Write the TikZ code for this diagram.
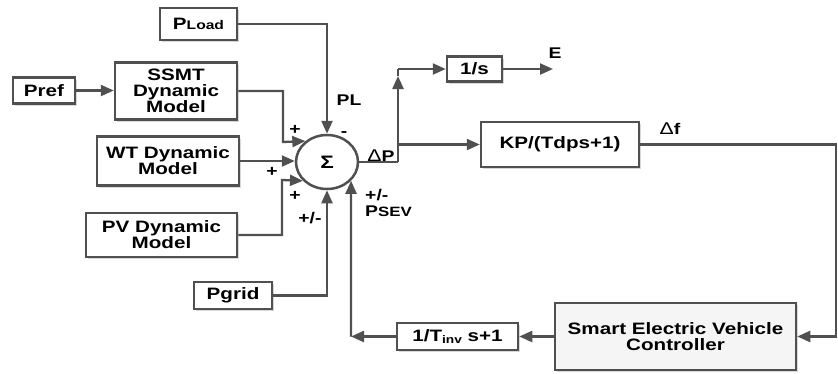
\documentclass[tikz,border=0pt]{standalone}
\usepackage{fontspec}
\setmainfont{Liberation Sans}[FakeStretch=1.25]
\usetikzlibrary{arrows.meta,shapes.geometric,shadows}
\definecolor{lc}{RGB}{80,80,80}
\begin{document}
\begin{tikzpicture}[x=1pt,y=-1pt,
  blk/.style={draw=lc, line width=2.5pt, fill=white, rectangle, inner sep=0pt, align=center,
    font=\fontsize{16.5}{16}\bfseries,
    drop shadow={shadow xshift=2pt,shadow yshift=-2pt,fill=black!25,opacity=.6}},
  arr/.style={-{Triangle[length=13pt,width=11pt]}, line width=2.3pt, draw=lc},
  wire/.style={line width=2.3pt, draw=lc},
  lbl/.style={font=\fontsize{15.5}{15}\bfseries, inner sep=0pt}]
\useasboundingbox (0,0) rectangle (838,373);
\fill[white] (0,0) rectangle (838,373);
% blocks
\node[blk, minimum width=77pt, minimum height=32pt] (pload) at (198.5,24) {P{\fontsize{12.5}{12}\selectfont Load}};
\node[blk, minimum width=62pt, minimum height=26pt] (pref) at (44,90.5) {Pref};
\node[blk, minimum width=122pt, minimum height=57pt] (ssmt) at (176,91) {SSMT\\Dynamic\\Model};
\node[blk, minimum width=142pt, minimum height=49pt] (wt) at (168,161) {WT Dynamic\\Model};
\node[blk, minimum width=151pt, minimum height=44pt] (pv) at (161.5,235) {PV Dynamic\\Model};
\node[blk, minimum width=78pt, minimum height=27pt] (pgrid) at (233,295.5) {Pgrid};
\node[blk, minimum width=55pt, minimum height=25pt] (s) at (474.5,69) {1/s};
\node[blk, minimum width=158pt, minimum height=45pt] (kp) at (560,144.5) {KP/(Tdps+1)};
\node[blk, minimum width=241pt, minimum height=67pt, fill=gray!8, font=\fontsize{16.5}{15.5}\bfseries] (sev) at (675.5,336.5) {Smart Electric Vehicle\\Controller};
\node[blk, minimum width=121pt, minimum height=27pt] (tinv) at (457.5,336.5) {1/T{\fontsize{11}{11}\selectfont\raisebox{-2.5pt}{inv}} s+1};
% summing junction
\node[draw=lc, line width=2.5pt, ellipse, minimum width=62pt, minimum height=54pt, inner sep=0pt, fill=white,
  font=\fontsize{18}{18}\bfseries] (sum) at (327,162) {Σ};
% coordinates
\coordinate (cssmt) at (283,142);
\coordinate (cpv) at (282,180);
\coordinate (cdp) at (398,162);
\coordinate (cup) at (398,76);
\coordinate (ctop) at (398,69);
\coordinate (jkp) at (398,144.5);
\coordinate (e) at (553,69);
\coordinate (cr) at (836,336.5);
\coordinate (cfb) at (351,336.5);
% connectors
\draw[arr] (pload.east) -| (sum.north);
\draw[arr] (pref.east) -- (pref.east -| ssmt.west);
\draw[arr] (ssmt.east) -| (cssmt) -- (sum.136);
\draw[arr] (wt.east) -- (wt.east -| sum.west);
\draw[arr] (pv.east) -| (cpv) -- (sum.218);
\draw[arr] (pgrid.east) -| (sum.south);
\draw[wire] (sum.east) -- (cdp);
\draw[arr] (cdp) -- (cup);
\draw[wire] (cup) -- (ctop);
\draw[arr] (ctop) -- (s.west);
\draw[arr] (jkp) -- (kp.west);
\draw[arr] (s.east) -- (e);
\draw[arr] (kp.east) -| (cr) -- (sev.east);
\draw[arr] (sev.west) -- (tinv.east);
\draw[arr] (tinv.west) -- (cfb);
\draw[arr] (cfb) -- (sum.-38);
% labels
\node[lbl] (lE) at (555,53.5) {E};
\node[lbl] (lPL) at (349,100) {PL};
\node[lbl] (lp1) at (295,130) {+};
\node[lbl] (lm1) at (344,134) {-};
\node[lbl] (lp2) at (272,172) {+};
\node[lbl] (lp3) at (295,196) {+};
\node[lbl] (lpm1) at (310,218) {+/-};
\node[lbl, anchor=west] (lpm2) at (365,195.5) {+/-};
\node[lbl, anchor=west] (lpsev) at (365,211.5) {P{\fontsize{13.5}{13}\selectfont SEV}};
\node[lbl] (ldp) at (381,156) {{\mdseries\fontsize{17}{17}\selectfont Δ}P};
\node[lbl] (ldf) at (670,129) {{\mdseries\fontsize{17}{17}\selectfont Δ}f};
\end{tikzpicture}
\end{document}
